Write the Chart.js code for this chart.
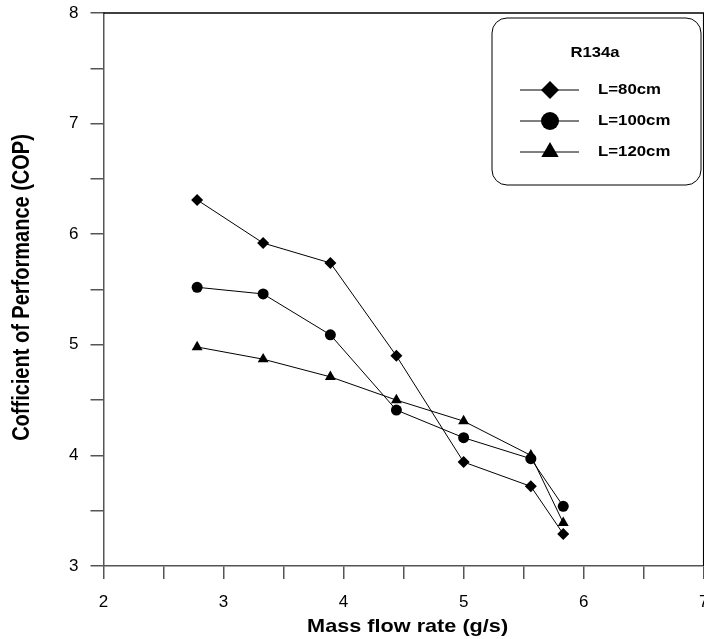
<!DOCTYPE html>
<html>
<head>
<meta charset="utf-8">
<script src="https://cdn.jsdelivr.net/npm/chart.js@4/dist/chart.umd.min.js"></script>
<style>
html,body{margin:0;padding:0;background:#fff;overflow:hidden;}
#wrap{position:relative;width:704px;height:639px;overflow:hidden;}
canvas{display:block;}
</style>
</head>
<body>
<div id="wrap"><canvas id="c" width="710" height="639"></canvas></div>
<script>
// Data
const massFlow = [2.78, 3.33, 3.89, 4.44, 5.0, 5.56, 5.83];
const copL80  = [6.31, 5.92, 5.74, 4.90, 3.94, 3.72, 3.29];
const copL100 = [5.52, 5.46, 5.09, 4.41, 4.16, 3.97, 3.54];
const copL120 = [4.98, 4.87, 4.71, 4.50, 4.31, 4.00, 3.39];
const seriesNames = ['L=80cm', 'L=100cm', 'L=120cm'];
const legendTitle = 'R134a';
const xTitle = 'Mass flow rate (g/s)';
const yTitle = 'Cofficient of Performance (COP)';

const toPts = (ys) => ys.map((y, i) => ({x: massFlow[i], y}));

const styles = ['rectRot', 'circle', 'triangle'];
const radii = [6, 5.5, 6.3];
const legendRadii = [9, 9, 10];

const FONT = '"Liberation Sans", Arial, sans-serif';

function drawMarker(ctx, style, x, y, r) {
  ctx.beginPath();
  if (style === 'rectRot') {
    ctx.moveTo(x - r, y); ctx.lineTo(x, y - r); ctx.lineTo(x + r, y); ctx.lineTo(x, y + r);
  } else if (style === 'circle') {
    ctx.arc(x, y, r, 0, Math.PI * 2);
  } else {
    const w = r * Math.sqrt(3);
    ctx.moveTo(x, y - r); ctx.lineTo(x + w / 2, y + r / 2); ctx.lineTo(x - w / 2, y + r / 2);
  }
  ctx.closePath();
  ctx.fill();
}

function stretchedText(ctx, text, x, y, sx, align, rot) {
  ctx.save();
  ctx.translate(x, y);
  ctx.scale(sx, 1);
  if (rot) ctx.rotate(rot);
  ctx.textAlign = align;
  ctx.textBaseline = 'middle';
  ctx.fillText(text, 0, 0);
  ctx.restore();
}

const framePlugin = {
  id: 'frame',
  afterDraw(chart) {
    const {ctx, chartArea: a} = chart;
    ctx.save();
    ctx.strokeStyle = '#000';
    ctx.lineWidth = 1.5;
    ctx.beginPath();
    ctx.moveTo(a.left, a.top); ctx.lineTo(a.right, a.top); ctx.lineTo(a.right, a.bottom);
    ctx.stroke();

    // axis titles
    ctx.fillStyle = '#000';
    ctx.font = 'bold 19px ' + FONT;
    stretchedText(ctx, xTitle, (a.left + a.right) / 2 + 4, 627, 1.14, 'center', 0);
    ctx.font = 'bold 20px ' + FONT;
    stretchedText(ctx, yTitle, 23, (a.top + a.bottom) / 2 - 2, 1.15, 'center', -Math.PI / 2);

    // legend box
    const bx = 492, by = 18, bw = 209, bh = 167, br = 15;
    ctx.lineWidth = 1;
    ctx.fillStyle = '#fff';
    ctx.beginPath();
    ctx.moveTo(bx + br, by);
    ctx.lineTo(bx + bw - br, by); ctx.arcTo(bx + bw, by, bx + bw, by + br, br);
    ctx.lineTo(bx + bw, by + bh - br); ctx.arcTo(bx + bw, by + bh, bx + bw - br, by + bh, br);
    ctx.lineTo(bx + br, by + bh); ctx.arcTo(bx, by + bh, bx, by + bh - br, br);
    ctx.lineTo(bx, by + br); ctx.arcTo(bx, by, bx + br, by, br);
    ctx.closePath();
    ctx.fill();
    ctx.stroke();
    ctx.fillStyle = '#000';
    ctx.font = 'bold 14px ' + FONT;
    stretchedText(ctx, legendTitle, 595, 53, 1.19, 'center', 0);
    ctx.font = 'bold 15px ' + FONT;
    const rows = [90, 121, 152];
    seriesNames.forEach((name, i) => {
      const y = rows[i];
      ctx.strokeStyle = '#000';
      ctx.lineWidth = 1;
      ctx.beginPath(); ctx.moveTo(520, y); ctx.lineTo(579, y); ctx.stroke();
      drawMarker(ctx, styles[i], 550, y, legendRadii[i]);
      stretchedText(ctx, name, 598, y, 1.12, 'left', 0);
    });
    ctx.restore();
  }
};

const tickFont = {family: FONT, size: 17};

new Chart(document.getElementById('c'), {
  type: 'scatter',
  data: {
    datasets: [copL80, copL100, copL120].map((d, i) => ({
      label: seriesNames[i],
      data: toPts(d),
      showLine: true,
      borderColor: '#000',
      borderWidth: 1,
      backgroundColor: '#000',
      pointStyle: styles[i],
      pointRadius: radii[i],
      pointBorderWidth: 0,
      pointHoverRadius: radii[i],
      tension: 0
    }))
  },
  options: {
    responsive: false,
    animation: false,
    events: [],
    layout: {padding: {top: 13, right: 0, left: 0, bottom: 0}},
    plugins: {legend: {display: false}, tooltip: {enabled: false}},
    scales: {
      x: {
        type: 'linear', min: 2, max: 7,
        afterFit(s) { s.height = 73; s.paddingLeft = 0; s.paddingRight = 0; },
        ticks: {
          stepSize: 0.5, color: '#000', font: tickFont, padding: 13, maxRotation: 0,
          callback: (v) => Number.isInteger(v) ? String(v) : ''
        },
        grid: {drawOnChartArea: false, drawTicks: true, tickLength: 13, color: '#555', lineWidth: 1.5},
        border: {display: true, color: '#555', width: 1.5}
      },
      y: {
        type: 'linear', min: 3, max: 8,
        afterFit(s) { s.width = 103.5; s.paddingTop = 0; s.paddingBottom = 0; },
        ticks: {
          stepSize: 0.5, color: '#000', font: tickFont, padding: 12,
          callback: (v) => Number.isInteger(v) ? String(v) : ''
        },
        grid: {drawOnChartArea: false, drawTicks: true, tickLength: 13, color: '#555', lineWidth: 1.5},
        border: {display: true, color: '#555', width: 1.5}
      }
    }
  },
  plugins: [framePlugin]
});
</script>
</body>
</html>
